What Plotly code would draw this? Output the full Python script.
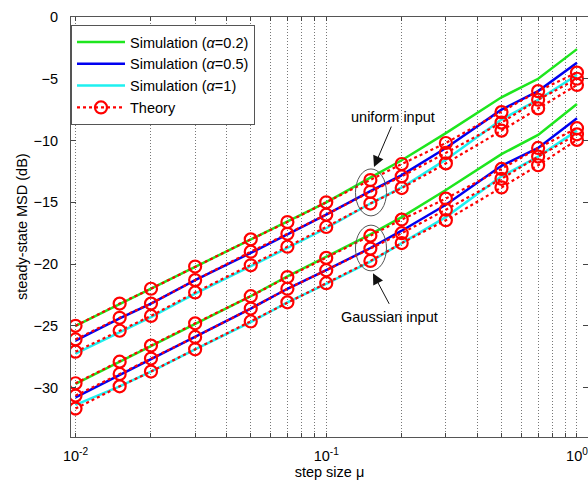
import numpy as np
import plotly.graph_objects as go

# step sizes
mu = [0.01, 0.015, 0.02, 0.03, 0.05, 0.07, 0.1, 0.15, 0.2, 0.3, 0.5, 0.7, 1.0]

# uniform input - simulation
sim_u_02 = [-25.0, -23.25, -22.0, -20.2, -18.0, -16.6, -15.0, -13.0, -11.6, -9.4, -6.5, -5.0, -2.6]
sim_u_05 = [-26.2, -24.4, -23.2, -21.3, -19.1, -17.6, -16.0, -14.1, -12.8, -10.6, -7.5, -6.0, -3.7]
sim_u_1 = [-27.25, -25.5, -24.3, -22.4, -20.2, -18.7, -17.1, -15.1, -13.8, -11.55, -8.3, -6.7, -4.7]
# uniform input - theory
th_u_02 = [-25.0, -23.2, -22.0, -20.2, -18.0, -16.6, -15.0, -13.2, -11.9, -10.2, -7.7, -6.0, -4.5]
th_u_05 = [-26.1, -24.35, -23.2, -21.3, -19.0, -17.55, -16.0, -14.15, -12.9, -11.0, -8.55, -6.7, -5.0]
th_u_1 = [-27.1, -25.4, -24.2, -22.3, -20.1, -18.6, -17.0, -15.1, -13.85, -11.85, -9.2, -7.4, -5.5]

# Gaussian input - simulation
sim_g_02 = [-29.7, -27.9, -26.6, -24.8, -22.6, -21.0, -19.4, -17.6, -16.2, -14.0, -11.1, -9.55, -7.05]
sim_g_05 = [-30.8, -29.0, -27.7, -25.9, -23.6, -22.0, -20.5, -18.7, -17.3, -15.2, -12.05, -10.6, -8.2]
sim_g_1 = [-31.4, -29.9, -28.7, -26.9, -24.7, -23.1, -21.6, -19.8, -18.3, -16.2, -12.9, -11.3, -9.2]
# Gaussian input - theory
th_g_02 = [-29.65, -27.9, -26.6, -24.8, -22.6, -21.05, -19.5, -17.7, -16.4, -14.7, -12.3, -10.6, -9.0]
th_g_05 = [-30.65, -28.9, -27.65, -25.9, -23.6, -22.0, -20.5, -18.75, -17.5, -15.6, -13.1, -11.3, -9.5]
th_g_1 = [-31.7, -29.9, -28.7, -26.9, -24.65, -23.1, -21.55, -19.75, -18.3, -16.45, -13.8, -12.0, -9.95]

sim_names = ["Simulation (<i>α</i>=0.2)", "Simulation (<i>α</i>=0.5)", "Simulation (<i>α</i>=1)"]
sim_colors = ["#1ee61e", "#0000f0", "#1ef0f0"]

x_major = [0.01, 0.1, 1]
x_major_text = ["10<sup>-2</sup>", "10<sup>-1</sup>", "10<sup>0</sup>"]
y_ticks = [-30, -25, -20, -15, -10, -5, 0]

FONT = "Liberation Sans, Arial, sans-serif"
FS = 14.5

fig = go.Figure()

sim_sets = [(sim_u_02, sim_g_02), (sim_u_05, sim_g_05), (sim_u_1, sim_g_1)]
for i, (su, sg) in enumerate(sim_sets):
    for j, s in enumerate((su, sg)):
        fig.add_trace(go.Scatter(
            x=mu, y=s, mode="lines", name=sim_names[i],
            line=dict(color=sim_colors[i], width=2.5),
            legendgroup=f"sim{i}", showlegend=(j == 0)))

th_sets = [th_u_02, th_u_05, th_u_1, th_g_02, th_g_05, th_g_1]
for k, t in enumerate(th_sets):
    fig.add_trace(go.Scatter(
        x=mu, y=t, mode="lines+markers", name="Theory",
        line=dict(color="#ff0000", width=2.2, dash="dot"),
        marker=dict(symbol="circle-open", size=12, color="#ff0000",
                    line=dict(width=2.2, color="#ff0000")),
        legendgroup="theory", showlegend=(k == 0)))

# x tick positions: all decade subdivisions for the dotted grid
xt = []
xt_text = []
for d in [0.01, 0.1]:
    for m in range(1, 10):
        v = round(d * m, 4)
        xt.append(v)
        xt_text.append(x_major_text[x_major.index(v)] if v in x_major else "")
xt.append(1.0)
xt_text.append(x_major_text[2])

fig.update_xaxes(
    type="log", range=[-2.018, 0.044],
    tickvals=xt, ticktext=xt_text,
    ticks="inside", ticklen=4, tickcolor="#444",
    showgrid=True, gridcolor="#777", griddash="1px,2px", gridwidth=1,
    showline=True, linecolor="#555", linewidth=1, mirror="ticks",
    zeroline=False,
    tickfont=dict(family=FONT, size=FS, color="#000"),
    ticklabelstandoff=6, ticklabeloverflow="allow",
    title=dict(text="step size μ", font=dict(family=FONT, size=FS, color="#000"), standoff=2),
)
fig.update_yaxes(
    range=[-34, 0], tickvals=y_ticks,
    ticks="inside", ticklen=5, tickcolor="#444",
    showgrid=False, zeroline=False,
    showline=True, linecolor="#555", linewidth=1, mirror="ticks",
    tickfont=dict(family=FONT, size=FS, color="#000"),
    ticklabelstandoff=9, ticklabeloverflow="allow",
)

# y-axis title placed as a rotated annotation
fig.add_annotation(text="steady-state MSD (dB)", xref="paper", yref="paper",
                   x=0, y=0.5, xanchor="center", yanchor="middle", xshift=-49,
                   textangle=-90, showarrow=False,
                   font=dict(family=FONT, size=FS, color="#000"))

# ellipses around the mu = 0.15 markers
fig.add_shape(type="circle", xref="x", yref="y", x0=0.1308, x1=0.1739, y0=-16.1, y1=-12.3,
              line=dict(color="#555", width=1))
fig.add_shape(type="circle", xref="x", yref="y", x0=0.1308, x1=0.1739, y0=-20.55, y1=-16.85,
              line=dict(color="#555", width=1))

# arrows
fig.add_annotation(x=-0.8096, y=-12.15, xref="x", yref="y", text="", showarrow=True,
                   ax=18, ay=-42, arrowhead=2, arrowsize=2.2, arrowwidth=1, arrowcolor="#111")
fig.add_annotation(x=-0.8136, y=-20.75, xref="x", yref="y", text="", showarrow=True,
                   ax=17, ay=32, arrowhead=2, arrowsize=2.2, arrowwidth=1, arrowcolor="#111")
fig.add_annotation(x=-0.734, y=-8.1, xref="x", yref="y", text="uniform input", showarrow=False,
                   font=dict(family=FONT, size=FS, color="#000"))
fig.add_annotation(x=-0.7458, y=-24.3, xref="x", yref="y", text="Gaussian input", showarrow=False,
                   font=dict(family=FONT, size=FS, color="#000"))

fig.update_layout(
    width=588, height=489,
    margin=dict(l=71, r=0, t=17, b=52),
    paper_bgcolor="white", plot_bgcolor="white",
    showlegend=True,
    legend=dict(x=0.0, y=0.981, xanchor="left", yanchor="top",
                bgcolor="white", bordercolor="#555", borderwidth=1,
                font=dict(family=FONT, size=FS, color="#000"),
                itemwidth=48,
                tracegroupgap=0, traceorder="normal"),
)

fig.write_html("out.html", config={"displayModeBar": False},
               post_script="document.body.style.margin='0';document.body.style.overflow='hidden';")
